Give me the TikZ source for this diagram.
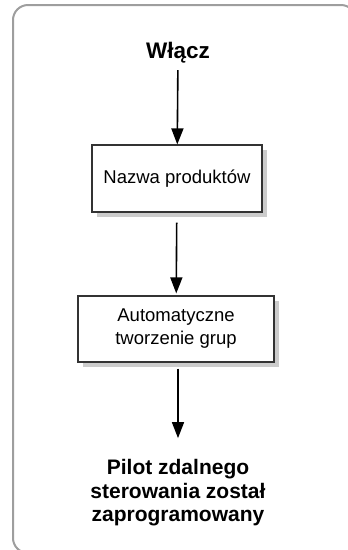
\documentclass[tikz,border=0pt]{standalone}
\usepackage{fontspec}
\setmainfont{Liberation Sans}
\usetikzlibrary{positioning,arrows.meta,shadows}

\tikzset{
    procbox/.style={draw=black!80, line width=1.2pt, fill=white, minimum height=67pt,
        align=center, font=\fontsize{18.5}{23}\selectfont,
        drop shadow={shadow xshift=5pt, shadow yshift=-5pt, fill=black!20, opacity=1}},
    bigtext/.style={font=\fontsize{21}{23.5}\selectfont\bfseries, align=center},
    flowarrow/.style={line width=1.6pt, -{Triangle[length=16pt,width=12pt]}}
}

\begin{document}
\begin{tikzpicture}[x=1pt, y=-1pt]
    \useasboundingbox (0,0) rectangle (348,550);
    \draw[black!38, line width=2pt, rounded corners=15pt] (13,5) rectangle (356,553);
    \node[font=\fontsize{22.5}{26}\selectfont\bfseries] (wlacz) at (178,53) {Włącz};
    \node[procbox, minimum width=170pt] (prodbox) at (177,178.5) {Nazwa produktów};
    \node[procbox, minimum width=196pt, minimum height=66pt] (groupbox) at (176,329) {Automatyczne\\tworzenie grup};
    \node[bigtext] (done) at (178,493) {Pilot zdalnego\\sterowania został\\zaprogramowany};
    \draw[flowarrow, shorten <=3pt] (wlacz) -- (prodbox);
    \draw[flowarrow, shorten <=10pt, shorten >=2pt] (prodbox) -- (groupbox);
    \draw[flowarrow, shorten <=6pt, shorten >=18pt] (groupbox.south -| done) -- (done);
\end{tikzpicture}
\end{document}
